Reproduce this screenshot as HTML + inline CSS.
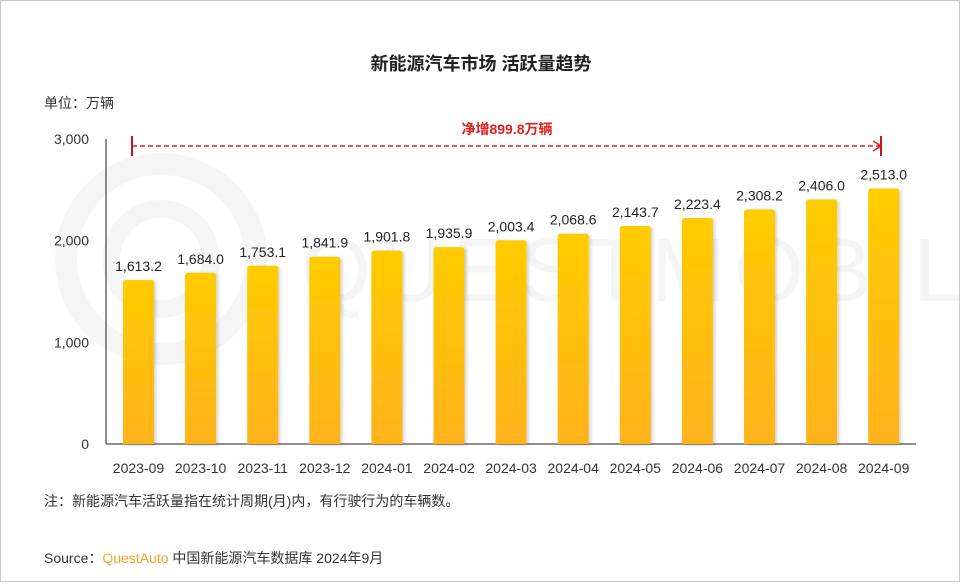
<!DOCTYPE html>
<html><head><meta charset="utf-8"><style>
body{margin:0;background:#fff;}
#wrap{position:relative;width:958px;height:580px;border:1px solid #c8c8c8;background:#fff;font-family:"Liberation Sans","Noto Sans CJK SC",sans-serif;}
</style></head><body>
<div id="wrap">
<svg id="chart" width="958" height="580" xmlns="http://www.w3.org/2000/svg">
<defs>
<linearGradient id="g" x1="0" y1="0" x2="0" y2="1"><stop offset="0" stop-color="#FFCC00"/><stop offset="1" stop-color="#FFB21C"/></linearGradient>
<filter id="sh" x="-20%" y="-5%" width="150%" height="110%"><feDropShadow dx="2" dy="1" stdDeviation="1.5" flood-color="#000" flood-opacity="0.18"/></filter>
</defs>
<g opacity="0.035" fill="none" stroke="#000">
<circle cx="160" cy="258" r="95" stroke-width="22"/><circle cx="160" cy="258" r="50" stroke-width="18"/>
<text x="300" y="300" font-size="90" fill="#000" stroke="none" font-family="Liberation Sans" letter-spacing="8">QUESTMOBILE</text>
</g>
<text x="480" y="69" text-anchor="middle" font-size="18" font-weight="bold" fill="#222">新能源汽车市场 活跃量趋势</text>
<text x="43" y="107" font-size="14" fill="#333">单位：万辆</text>
<g id="axes"></g>
<g id="bars"></g>
<g>
<line x1="131" y1="145" x2="880" y2="145" stroke="#E02020" stroke-width="1.5" stroke-dasharray="5,3"/>
<line x1="131" y1="135" x2="131" y2="155" stroke="#C01818" stroke-width="2"/>
<line x1="880" y1="135" x2="880" y2="155" stroke="#C01818" stroke-width="2"/>
<path d="M872,140 L880,145 L872,150" fill="none" stroke="#E02020" stroke-width="1.5"/>
<text x="506" y="133" text-anchor="middle" font-size="14" fill="#E02020" font-weight="bold">净增899.8万辆</text>
</g>
<text x="43" y="505" font-size="14" fill="#333">注：新能源汽车活跃量指在统计周期(月)内，有行驶行为的车辆数。</text>
<text x="43" y="562" font-size="14" fill="#333">Source：<tspan fill="#F5A623">QuestAuto</tspan> 中国新能源汽车数据库 2024年9月</text>
</svg>
</div>
<script>
const categories=["2023-09","2023-10","2023-11","2023-12","2024-01","2024-02","2024-03","2024-04","2024-05","2024-06","2024-07","2024-08","2024-09"];
const values=[1613.2,1684.0,1753.1,1841.9,1901.8,1935.9,2003.4,2068.6,2143.7,2223.4,2308.2,2406.0,2513.0];
const yTicks=[0,1000,2000,3000];
const yTickLabels=["0","1,000","2,000","3,000"];
const NS="http://www.w3.org/2000/svg";
const y0=443,y1=138,yMax=3000,x0=137.5,step=62.1,bw=31;
const yS=v=>y0-(v/yMax)*(y0-y1);
const xS=i=>x0+i*step;
const axes=document.getElementById('axes'),bars=document.getElementById('bars');
function mk(t,a,p){const e=document.createElementNS(NS,t);for(const k in a)e.setAttribute(k,a[k]);p.appendChild(e);return e;}
const ya=mk('line',{x1:105,y1:y1,x2:105,y2:y0,stroke:'#222','stroke-width':1},axes);


const xa=mk('line',{x1:105,y1:y0,x2:915,y2:y0,stroke:'#222','stroke-width':1},axes);


yTicks.forEach((v,i)=>{const t=mk('text',{x:88,y:yS(v)+5,'text-anchor':'end','font-size':14,fill:'#333'},axes);t.textContent=yTickLabels[i];

});
values.forEach((v,i)=>{const cx=xS(i);
const r=mk('path',{d:`M${cx-bw/2},${y0} L${cx-bw/2},${yS(v)+3} Q${cx-bw/2},${yS(v)} ${cx-bw/2+3},${yS(v)} L${cx+bw/2-3},${yS(v)} Q${cx+bw/2},${yS(v)} ${cx+bw/2},${yS(v)+3} L${cx+bw/2},${y0} Z`,fill:'url(#g)',filter:'url(#sh)'},bars);


const l=mk('text',{x:cx,y:yS(v)-9,'text-anchor':'middle','font-size':14,fill:'#222'},bars);l.textContent=v.toLocaleString('en-US',{minimumFractionDigits:1,maximumFractionDigits:1});


const c=mk('text',{x:cx,y:472,'text-anchor':'middle','font-size':14,fill:'#333'},bars);c.textContent=categories[i];

});
</script>
</body></html>
